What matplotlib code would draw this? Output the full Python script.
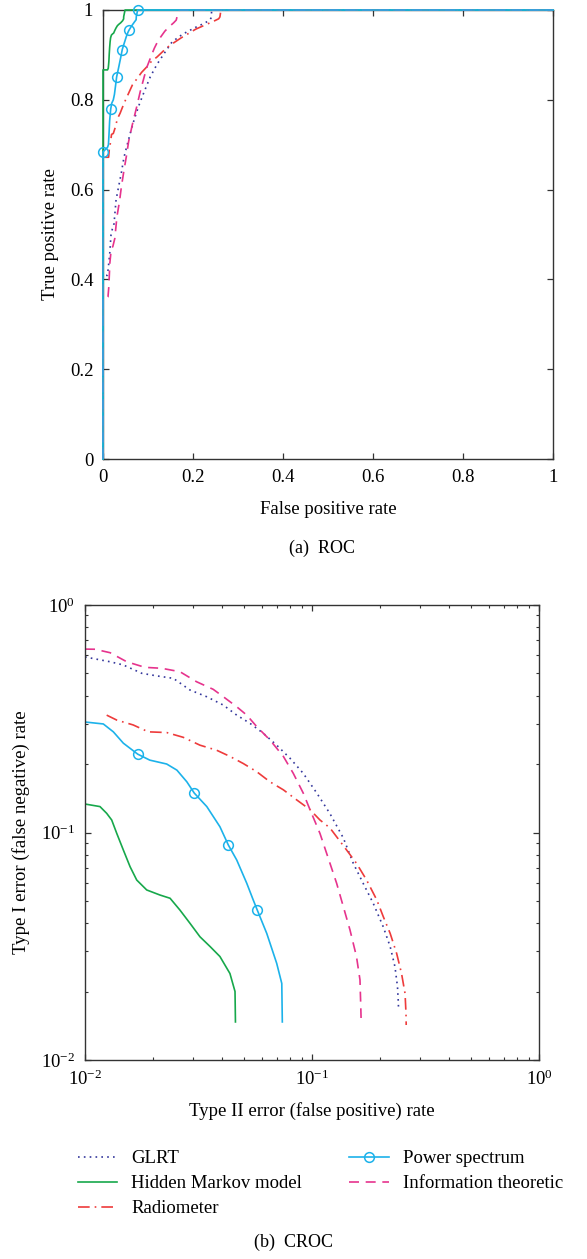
import numpy as np
import matplotlib
matplotlib.use("Agg")
import matplotlib.pyplot as plt

plt.rcParams['font.family'] = ['Liberation Serif', 'DejaVu Serif']
plt.rcParams['mathtext.fontset'] = 'stix'

# curves as (false positive rate, false negative rate); TPR = 1 - FNR
glrt_fpr = [0, 0, 0.01, 0.0129, 0.01475, 0.01778, 0.0207, 0.0245, 0.0290, 0.0344, 0.0407,
            0.0466, 0.0533, 0.061, 0.0699, 0.080, 0.0915, 0.105, 0.120, 0.1374, 0.152,
            0.168, 0.186, 0.206, 0.221, 0.232, 0.238, 0.2400, 0.2405, 0.2415, 1]
glrt_fnr = [1, 0.591, 0.591, 0.563, 0.545, 0.501, 0.488, 0.476, 0.423, 0.395, 0.363,
            0.328, 0.302, 0.273, 0.242, 0.212, 0.182, 0.149, 0.121, 0.0946, 0.0732,
            0.0598, 0.0489, 0.0385, 0.0315, 0.0257, 0.0210, 0.0180, 0.0169, 0, 0]

hmm_fpr = [0, 0, 0.01, 0.01164, 0.01246, 0.01311, 0.0138, 0.01475, 0.0158, 0.0169, 0.0187,
           0.0214, 0.0237, 0.0262, 0.0290, 0.0321, 0.0356, 0.0393, 0.0435, 0.0458, 0.046,
           0.049, 1]
hmm_fnr = [1, 0.1334, 0.1334, 0.130, 0.1214, 0.1135, 0.0991, 0.0838, 0.0707, 0.0618, 0.0559,
           0.0531, 0.0514, 0.0456, 0.0399, 0.0348, 0.0315, 0.0285, 0.0240, 0.0200, 0.0147,
           0, 0]

rad_fpr = [0, 0, 0.01246, 0.0138, 0.0163, 0.0190, 0.0229, 0.0271, 0.0321, 0.0380, 0.0435,
           0.0498, 0.0571, 0.0653, 0.0748, 0.0857, 0.098, 0.1084, 0.120, 0.142, 0.157,
           0.174, 0.193, 0.206, 0.221, 0.236, 0.248, 0.257, 0.2595, 0.260, 0.262, 1]
rad_fnr = [1, 0.328, 0.328, 0.312, 0.297, 0.277, 0.275, 0.262, 0.242, 0.230, 0.216,
           0.201, 0.185, 0.167, 0.154, 0.139, 0.126, 0.1135, 0.1047, 0.0838, 0.0732,
           0.0618, 0.0505, 0.0427, 0.0360, 0.0294, 0.0240, 0.0196, 0.0160, 0.01425, 0, 0]

ps_fpr = [0, 0, 0.01, 0.01204, 0.01333, 0.01475, 0.01707, 0.0193, 0.0229, 0.0254, 0.0281,
          0.0303, 0.0344, 0.0393, 0.0428, 0.0466, 0.0516, 0.0551, 0.0574, 0.0632, 0.0699,
          0.0736, 0.074, 0.077, 1]
ps_fnr = [1, 0.316, 0.306, 0.300, 0.277, 0.247, 0.221, 0.208, 0.200, 0.188, 0.167,
          0.149, 0.130, 0.106, 0.0881, 0.0757, 0.0598, 0.0505, 0.0456, 0.0360, 0.0266,
          0.0217, 0.0147, 0, 0]
ps_marks = [1, 6, 11, 14, 18, 23]

it_fpr = [0, 0, 0.01, 0.01107, 0.0129, 0.01527, 0.01837, 0.02177, 0.0262, 0.0310, 0.0367,
          0.0407, 0.0466, 0.0516, 0.0571, 0.0653, 0.0748, 0.0827, 0.0915, 0.098, 0.1084,
          0.114, 0.120, 0.1284, 0.1374, 0.147, 0.157, 0.1627, 0.164, 0.1645, 0.17, 1]
it_fnr = [1, 0.64, 0.64, 0.639, 0.617, 0.563, 0.532, 0.527, 0.509, 0.460, 0.426,
          0.395, 0.357, 0.328, 0.292, 0.255, 0.216, 0.182, 0.149, 0.126, 0.0991,
          0.0853, 0.0732, 0.0598, 0.0472, 0.0373, 0.0285, 0.0225, 0.0172, 0.0153, 0, 0]

labels = ['GLRT', 'Hidden Markov model', 'Radiometer', 'Power spectrum', 'Information theoretic']
colors = ['#34379c', '#17a84b', '#ee3b3b', '#1cb2ea', '#e6338d']

series = [
    (glrt_fpr, glrt_fnr, dict(linestyle=(0, (1, 2.5)), color=colors[0])),
    (hmm_fpr, hmm_fnr, dict(linestyle='-', color=colors[1])),
    (rad_fpr, rad_fnr, dict(linestyle=(0, (7, 3, 1, 3)), color=colors[2])),
    (ps_fpr, ps_fnr, dict(linestyle='-', color=colors[3], marker='o', markersize=7,
                          markerfacecolor='none', markeredgewidth=1.1, markevery=ps_marks)),
    (it_fpr, it_fnr, dict(linestyle=(0, (6, 4)), color=colors[4])),
]

fig = plt.figure(figsize=(5.87, 12.59), dpi=100)
ax1 = fig.add_axes([103 / 587, 1 - 459 / 1259, 450 / 587, 449 / 1259])
ax2 = fig.add_axes([85 / 587, 1 - 1060 / 1259, 454 / 587, 455 / 1259])

fs = 13.5

# (a) ROC
for i, (fpr, fnr, kw) in enumerate(series):
    tpr = 1 - np.array(fnr)
    z = 5 if i == 3 else 3
    ax1.plot(fpr, tpr, linewidth=1.2, zorder=z, clip_on=False, **kw)
ax1.set_xlim(0, 1)
ax1.set_ylim(0, 1)
ticks = [0, 0.2, 0.4, 0.6, 0.8, 1]
tlabels = ['0', '0.2', '0.4', '0.6', '0.8', '1']
ax1.set_xticks(ticks, tlabels)
ax1.set_yticks(ticks, tlabels)
ax1.set_xlabel('False positive rate', fontsize=fs, labelpad=11)
ax1.set_ylabel('True positive rate', fontsize=fs, labelpad=8)

# (b) CROC
for fpr, fnr, kw in series:
    ax2.plot(fpr, fnr, linewidth=1.2, **kw)
ax2.set_xscale('log', nonpositive='mask')
ax2.set_yscale('log', nonpositive='mask')
ax2.set_xlim(0.01, 1)
ax2.set_ylim(0.01, 1)
ax2.set_xticks([0.01, 0.1, 1])
ax2.set_yticks([0.01, 0.1, 1])
ax2.set_xlabel('Type II error (false positive) rate', fontsize=fs, labelpad=9)
ax2.set_ylabel('Type I error (false negative) rate', fontsize=fs, labelpad=8)

for ax in (ax1, ax2):
    for s in ax.spines.values():
        s.set_color('#333333')
        s.set_linewidth(1.0)
    ax.tick_params(which='major', direction='in', top=True, right=True, length=4,
                   width=0.9, color='#333333', labelsize=fs, pad=7)
    ax.tick_params(which='minor', direction='in', top=True, right=True, length=2,
                   width=0.8, color='#333333')

fig.text(322 / 587, 1 - 548 / 1259, '(a)  ROC', fontsize=13, ha='center', va='center')
fig.text(293 / 587, 1 - 1242 / 1259, '(b)  CROC', fontsize=13, ha='center', va='center')

handles = ax2.get_lines()
fig.legend(handles, labels, ncol=2, frameon=False, fontsize=fs,
           loc='upper left', bbox_to_anchor=(78 / 587, 1 - 1150 / 1259),
           handlelength=2.1, handletextpad=0.75, columnspacing=2.5,
           labelspacing=0.42, borderaxespad=0, borderpad=0)

fig.savefig('out.png', dpi=100)
